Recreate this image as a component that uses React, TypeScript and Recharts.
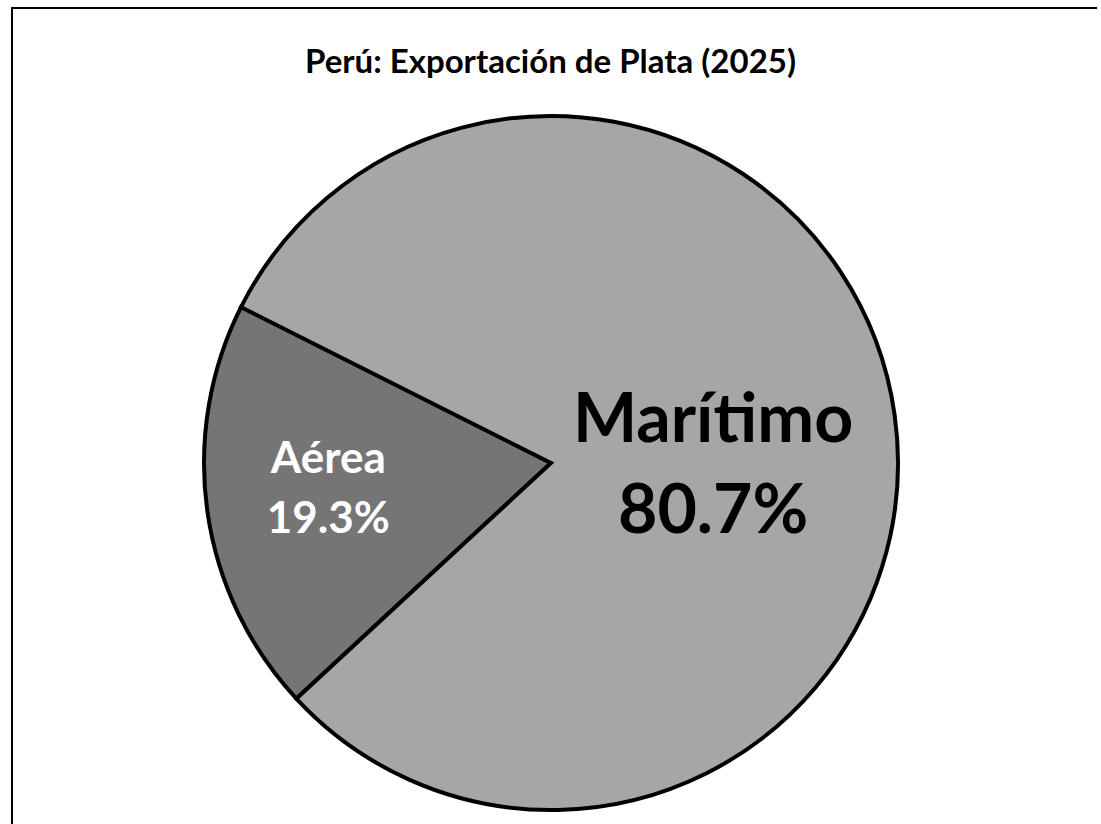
import React from 'react'
import { PieChart, Pie, Cell } from 'recharts'

const categories = ['Aérea', 'Marítimo']
const shares = [19.3, 80.7]
const colors = ['#757575', '#a6a6a6']

const chartData = categories.map((name, i) => ({ name, value: shares[i] }))

const FONT = 'Lato, "Open Sans", sans-serif'
const RADIAN = Math.PI / 180

function renderLabel(props: any) {
  const { cx, cy, midAngle, outerRadius, percent, name, value } = props
  const big = percent > 0.5
  let x: number
  let y: number
  if (big) {
    x = cx + outerRadius * 0.467
    y = cy
  } else {
    const r = outerRadius * 0.648
    x = cx + r * Math.cos(-midAngle * RADIAN)
    y = cy + r * Math.sin(-midAngle * RADIAN)
  }
  const size = big ? 68 : 44
  const gap = big ? 91 : 60
  const shift = big ? 0.36 : 0.2
  const fill = big ? '#000000' : '#ffffff'
  return (
    <text
      x={x}
      y={y}
      textAnchor="middle"
      fill={fill}
      fontFamily={FONT}
      fontWeight={700}
      fontSize={size}
    >
      <tspan x={x} y={y - gap / 2 + size * shift}>{name}</tspan>
      <tspan x={x} y={y + gap / 2 + size * shift}>{`${value.toFixed(1)}%`}</tspan>
    </text>
  )
}

export default function App() {
  return (
    <div style={{ position: 'fixed', left: 0, top: 0, width: 1101, height: 824, background: '#fff', overflow: 'hidden' }}>
      <div
        style={{
          position: 'absolute',
          left: 11,
          top: 7,
          width: 1084,
          height: 840,
          borderLeft: '2px solid #000',
          borderTop: '2px solid #000',
        }}
      />
      <div
        style={{
          position: 'absolute',
          left: 0,
          top: 40,
          width: 1101,
          textAlign: 'center',
          fontFamily: FONT,
          fontWeight: 700,
          fontSize: 33,
          color: '#000',
        }}
      >
        Perú: Exportación de Plata (2025)
      </div>
      <div style={{ position: 'absolute', left: 0, top: 0 }}>
        <PieChart width={1101} height={824} margin={{ top: 0, right: 0, bottom: 0, left: 0 }}>
          <Pie
            data={chartData}
            dataKey="value"
            nameKey="name"
            cx={551}
            cy={463}
            outerRadius={347}
            startAngle={153.3}
            endAngle={513.3}
            stroke="#000"
            strokeWidth={4}
            label={renderLabel}
            labelLine={false}
            isAnimationActive={false}
          >
            {chartData.map((entry, index) => (
              <Cell key={`cell-${entry.name}`} fill={colors[index]} />
            ))}
          </Pie>
        </PieChart>
      </div>
    </div>
  )
}
